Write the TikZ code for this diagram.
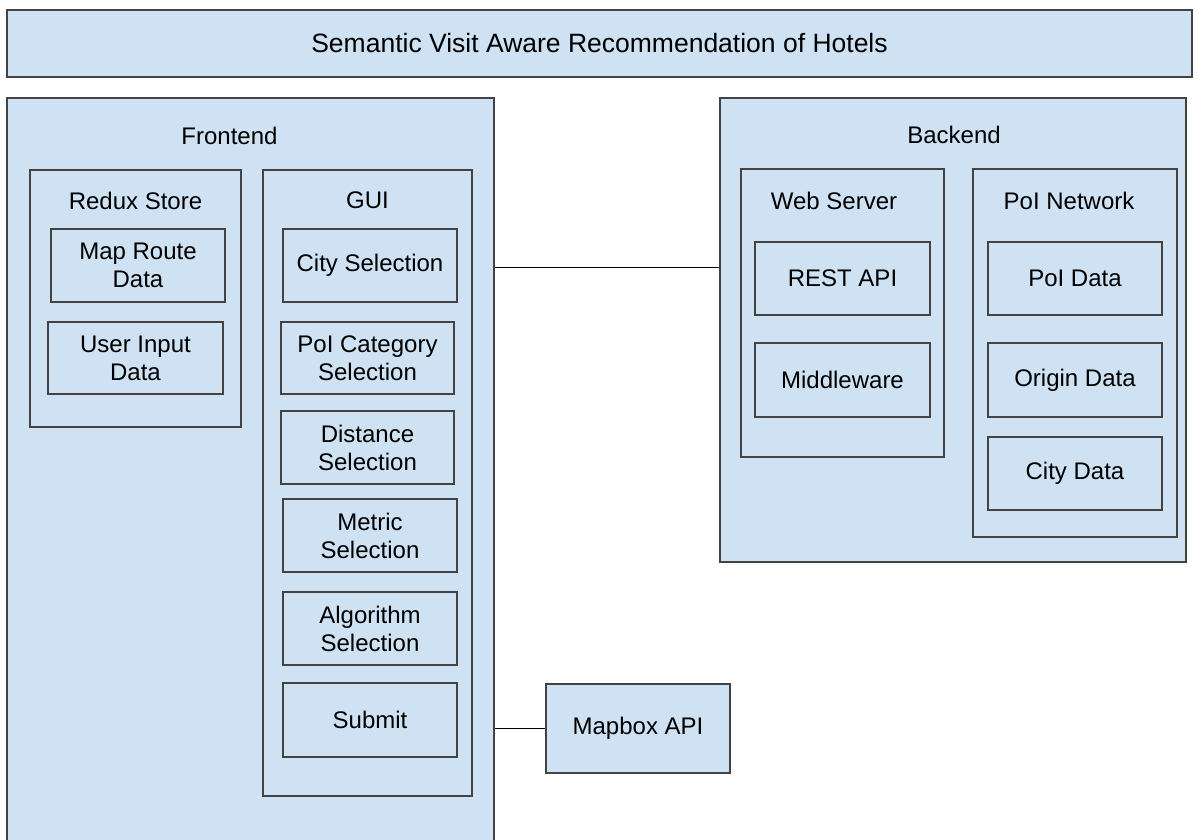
\documentclass[tikz,border=0pt]{standalone}
\usepackage{fontspec}
\setmainfont{Liberation Sans}
\usepackage{tikz}
\usetikzlibrary{positioning}

\definecolor{boxblue}{HTML}{CFE2F3}
\definecolor{edgegray}{HTML}{434343}

\tikzset{
  box/.style={draw=edgegray, fill=boxblue, line width=1.2pt, inner sep=0pt,
    align=center, font=\fontsize{24}{28}\selectfont},
  boxlabel/.style={inner sep=0pt, font=\fontsize{24}{28}\selectfont},
  link/.style={draw=black, line width=1pt}
}

\begin{document}
\begin{tikzpicture}[x=1pt, y=-1pt]
\useasboundingbox (0,0) rectangle (1199,839);
\clip (0,0) rectangle (1199,839);

% title bar
\node[box, minimum width=1185pt, minimum height=67pt, font=\fontsize{26.5}{30}\selectfont] (title) at (599.5,43.5) {Semantic Visit Aware Recommendation of Hotels};

% frontend
\node[box, minimum width=487pt, minimum height=762pt] (frontend) at (250.5,479) {};
\node[boxlabel] (frontendlbl) at (229.5,136) {Frontend};

\node[box, minimum width=211pt, minimum height=257pt] (redux) at (135.5,298.5) {};
\node[boxlabel] (reduxlbl) at (135.5,201) {Redux Store};
\node[box, minimum width=174pt, minimum height=73pt] (maproute) at (138,265.5) {Map Route\\Data};
\node[box, minimum width=175pt, minimum height=72pt] (userinput) at (135.5,358) {User Input\\Data};

\node[box, minimum width=209pt, minimum height=626pt] (gui) at (367.5,483) {};
\node[boxlabel] (guilbl) at (367.5,200) {GUI};
\node[box, minimum width=174pt, minimum height=73pt] (city) at (370,265.5) {City Selection};
\node[box, minimum width=173pt, minimum height=72pt] (poicat) at (367.5,358) {PoI Category\\Selection};
\node[box, minimum width=173pt, minimum height=73pt] (distance) at (367.5,447.5) {Distance\\Selection};
\node[box, minimum width=174pt, minimum height=73pt] (metric) at (370,535.5) {Metric\\Selection};
\node[box, minimum width=174pt, minimum height=73pt] (algorithm) at (370,628.5) {Algorithm\\Selection};
\node[box, minimum width=174pt, minimum height=74pt] (submit) at (370,720) {Submit};

\node[box, minimum width=184pt, minimum height=89pt] (mapbox) at (638,728.5) {Mapbox API};

% backend
\node[box, minimum width=466pt, minimum height=464pt] (backend) at (953,330) {};
\node[boxlabel] (backendlbl) at (954,135) {Backend};

\node[box, minimum width=203pt, minimum height=288pt] (webserver) at (842.5,313) {};
\node[boxlabel] (webserverlbl) at (834,201) {Web Server};
\node[box, minimum width=175pt, minimum height=73pt] (rest) at (842.5,278.5) {REST API};
\node[box, minimum width=175pt, minimum height=74pt] (middleware) at (842.5,380) {Middleware};

\node[box, minimum width=204pt, minimum height=368pt] (poinet) at (1075,353) {};
\node[boxlabel] (poinetlbl) at (1069,201) {PoI Network};
\node[box, minimum width=174pt, minimum height=73pt] (poidata) at (1075,278.5) {PoI Data};
\node[box, minimum width=174pt, minimum height=74pt] (origin) at (1075,380) {Origin Data};
\node[box, minimum width=174pt, minimum height=73pt] (citydata) at (1075,473.5) {City Data};

% connectors
\coordinate (apilink) at (600,267);
\draw[link] (apilink -| frontend.east) -- (apilink -| backend.west);
\draw[link] (mapbox.west -| frontend.east) -- (mapbox.west);
\end{tikzpicture}
\end{document}
